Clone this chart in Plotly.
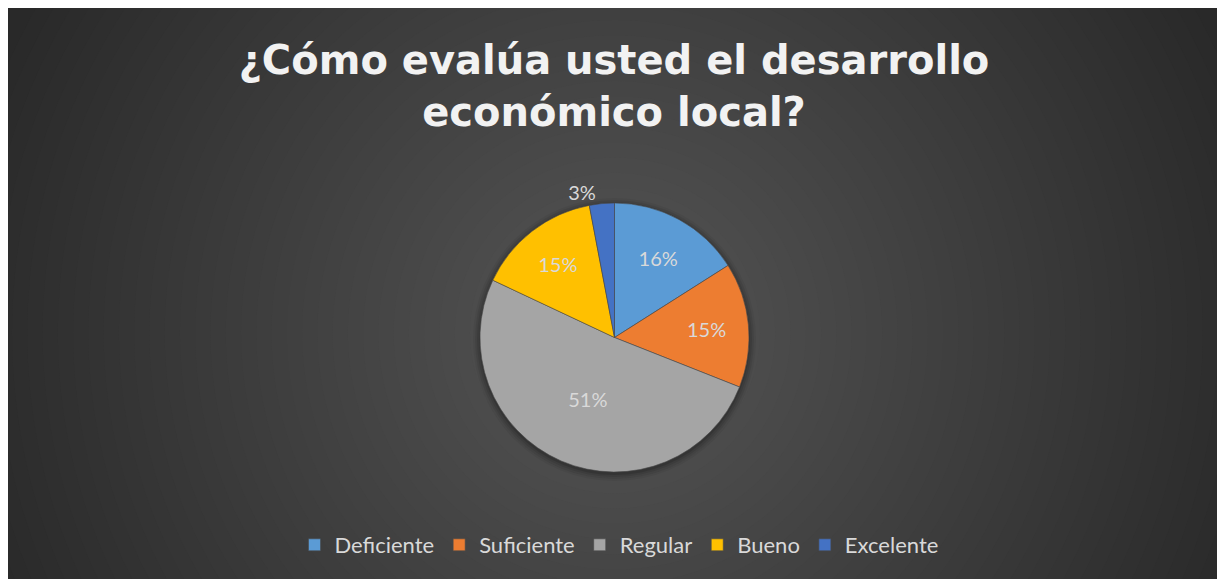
import plotly.graph_objects as go

# ---- data ----
categories = ["Deficiente", "Suficiente", "Regular", "Bueno", "Excelente"]
values = [16, 15, 51, 15, 3]
colors = ["#5B9BD5", "#ED7D31", "#A5A5A5", "#FFC000", "#4472C4"]
label_positions = ["inside", "inside", "inside", "inside", "outside"]
title_text = "¿Cómo evalúa usted el desarrollo<br>económico local?"

# ---- layout geometry (screen pixels; page body adds an 8px offset) ----
OFF = 8
W, H = 1225 - OFF, 579 - OFF


def px(x):
    return (x - OFF) / W


def py(y):
    return 1 - (y - OFF) / H


cx, cy, r = 614.5, 337.5, 134.5

# background radial gradient built from concentric circles
shapes = [dict(type="rect", xref="paper", yref="paper", x0=0, x1=1, y0=0, y1=1,
               fillcolor="rgb(41,41,41)", line=dict(width=0), layer="below")]
gcx, gcy = 615, 333
slope = 0.0655
for v in range(42, 86):
    R = (85 - v + 0.5) / slope
    shapes.append(dict(type="circle", xref="paper", yref="paper",
                       x0=px(gcx - R), x1=px(gcx + R), y0=py(gcy + R), y1=py(gcy - R),
                       fillcolor=f"rgb({v},{v},{v})", line=dict(width=0), layer="below"))
# soft shadow behind the pie
for i, a in enumerate([0.05, 0.07, 0.09, 0.12]):
    rr = r + 7 - i * 2
    shapes.append(dict(type="circle", xref="paper", yref="paper",
                       x0=px(cx - rr), x1=px(cx + rr), y0=py(cy + 2 + rr), y1=py(cy + 2 - rr),
                       fillcolor=f"rgba(0,0,0,{a})", line=dict(width=0), layer="below"))

fig = go.Figure()
fig.add_trace(go.Pie(
    labels=categories,
    values=values,
    sort=False,
    direction="clockwise",
    rotation=0,
    marker=dict(colors=colors, line=dict(color="#4a4a4a", width=0.6)),
    textinfo="percent",
    textposition=label_positions,
    insidetextorientation="horizontal",
    textfont=dict(family="Lato", size=20, color="#D9D9D9"),
    outsidetextfont=dict(family="Lato", size=20, color="#D9D9D9"),
    domain=dict(x=[px(cx - r), px(cx + r)], y=[py(cy + r), py(cy - r)]),
    hoverinfo="label+percent",
))

fig.update_layout(
    width=W, height=H,
    margin=dict(l=0, r=0, t=0, b=0, pad=0),
    paper_bgcolor="white",
    plot_bgcolor="rgba(0,0,0,0)",
    shapes=shapes,
    title=dict(text=title_text, x=px(614), xref="paper", xanchor="center",
               y=1 - 66 / H, yref="container", yanchor="top",
               font=dict(family="DejaVu Sans", size=40, color="#F2F2F2", weight="bold")),
    legend=dict(orientation="h", x=px(619), xanchor="center", y=py(545), yanchor="middle",
                font=dict(family="Lato", size=22, color="#D9D9D9"),
                bgcolor="rgba(0,0,0,0)", traceorder="normal"),
    showlegend=True,
)

fig.write_html("out.html")
